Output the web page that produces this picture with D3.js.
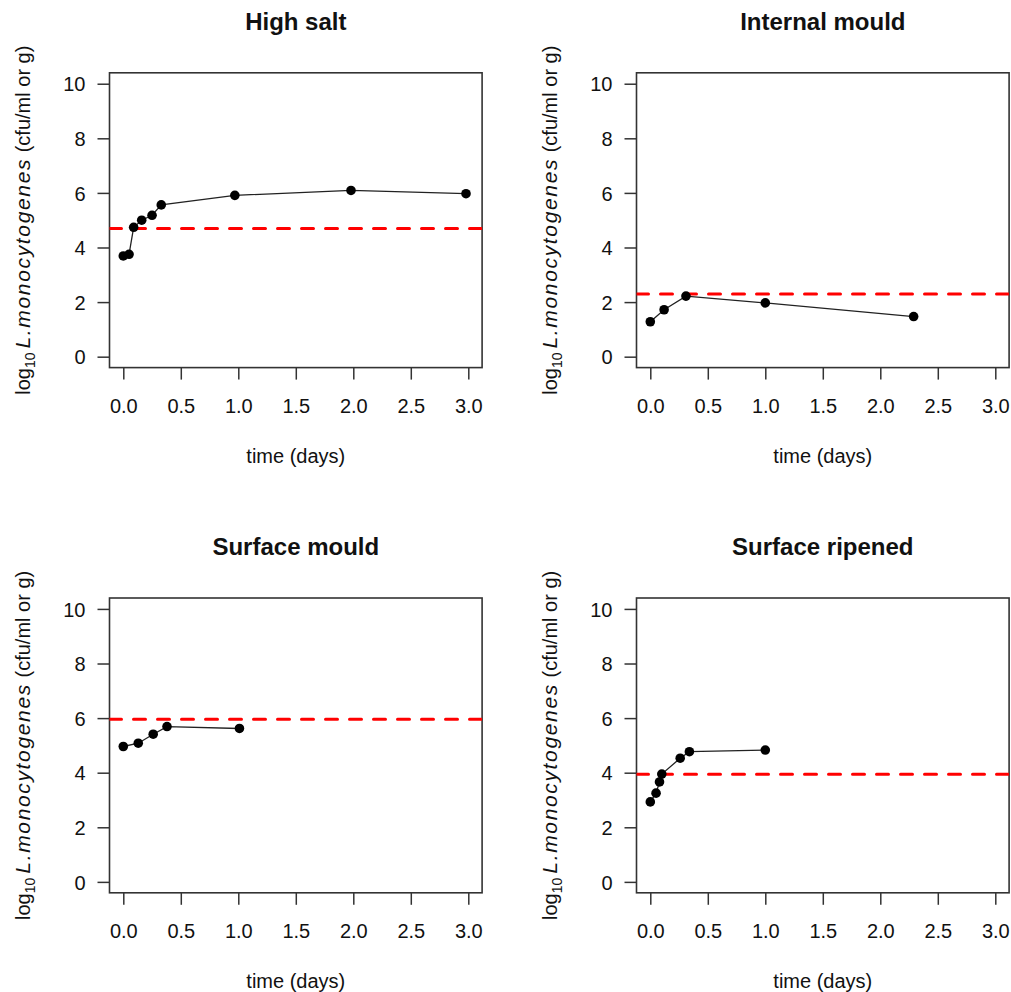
<!DOCTYPE html>
<html>
<head>
<meta charset="utf-8">
<script src="https://cdn.jsdelivr.net/npm/d3@7"></script>
<style>
  html, body { margin: 0; padding: 0; background: #fff; }
  svg { display: block; font-family: "Liberation Sans", Arial, sans-serif; }
</style>
</head>
<body>
<svg id="chart" width="1011" height="992"></svg>
<script>
// Growth of L. monocytogenes in four cheese types (log10 counts over time)
const panelTitles = ["High salt", "Internal mould", "Surface mould", "Surface ripened"];

const highSaltTime = [0, 0.05, 0.09, 0.16, 0.25, 0.33, 0.97, 1.98, 2.98];
const highSaltLog = [3.69, 3.75, 4.74, 5.00, 5.18, 5.56, 5.91, 6.09, 5.97];
const highSaltLimit = 4.70;

const internalMouldTime = [0, 0.12, 0.31, 1.00, 2.29];
const internalMouldLog = [1.28, 1.72, 2.22, 1.97, 1.47];
const internalMouldLimit = 2.30;

const surfaceMouldTime = [0, 0.13, 0.26, 0.38, 1.01];
const surfaceMouldLog = [4.96, 5.08, 5.41, 5.69, 5.62];
const surfaceMouldLimit = 5.96;

const surfaceRipenedTime = [0, 0.05, 0.08, 0.10, 0.26, 0.34, 1.00];
const surfaceRipenedLog = [2.93, 3.25, 3.66, 3.95, 4.53, 4.77, 4.83];
const surfaceRipenedLimit = 3.94;

const xTicks = [0, 0.5, 1, 1.5, 2, 2.5, 3];
const yTicks = [0, 2, 4, 6, 8, 10];
const xLabel = "time (days)";

const series = [
  { t: highSaltTime, y: highSaltLog, limit: highSaltLimit },
  { t: internalMouldTime, y: internalMouldLog, limit: internalMouldLimit },
  { t: surfaceMouldTime, y: surfaceMouldLog, limit: surfaceMouldLimit },
  { t: surfaceRipenedTime, y: surfaceRipenedLog, limit: surfaceRipenedLimit }
];

// plot-region layout (2 x 2 grid)
const boxW = 372.6, boxH = 294.8;
const lefts = [109.5, 636.5, 109.5, 636.5];
const tops = [72.8, 72.8, 598.0, 598.0];

const svg = d3.select("#chart");
const ink = "#111";

series.forEach((s, i) => {
  const L = lefts[i], T = tops[i];
  const x = d3.scaleLinear().domain([-0.12, 3.12]).range([L, L + boxW]);
  const y = d3.scaleLinear().domain([-0.4, 10.4]).range([T + boxH, T]);
  const g = svg.append("g");

  const clipId = "clip" + i;
  g.append("clipPath").attr("id", clipId)
    .append("rect").attr("x", L).attr("y", T).attr("width", boxW).attr("height", boxH);

  // x axis
  const xa = g.append("g").attr("transform", `translate(0,${T + boxH})`)
    .call(d3.axisBottom(x).tickValues(xTicks).tickFormat(d3.format(".1f")).tickSize(12).tickSizeOuter(0));
  xa.select(".domain").remove();
  xa.selectAll(".tick line").attr("stroke", "#333").attr("stroke-width", 1.5);
  xa.selectAll(".tick text").attr("y", 45.4).attr("dy", null)
    .attr("font-size", 20).attr("font-family", "Liberation Sans, Arial, sans-serif").attr("fill", ink);

  // y axis
  const ya = g.append("g").attr("transform", `translate(${L},0)`)
    .call(d3.axisLeft(y).tickValues(yTicks).tickFormat(d3.format("d")).tickSize(12).tickSizeOuter(0));
  ya.select(".domain").remove();
  ya.selectAll(".tick line").attr("stroke", "#333").attr("stroke-width", 1.5);
  ya.selectAll(".tick text").attr("x", -24).attr("dy", "0.36em")
    .attr("font-size", 20).attr("font-family", "Liberation Sans, Arial, sans-serif").attr("fill", ink);

  // plot frame
  g.append("rect").attr("x", L).attr("y", T).attr("width", boxW).attr("height", boxH)
    .attr("fill", "none").attr("stroke", "#333").attr("stroke-width", 1.6);

  // threshold line
  g.append("line").attr("clip-path", `url(#${clipId})`)
    .attr("x1", L).attr("x2", L + boxW)
    .attr("y1", y(s.limit)).attr("y2", y(s.limit))
    .attr("stroke", "#ff0000").attr("stroke-width", 3)
    .attr("stroke-dasharray", "12 12").attr("stroke-linecap", "round");

  // growth curve
  const pts = s.t.map((t, k) => [t, s.y[k]]);
  g.append("path").datum(pts)
    .attr("d", d3.line().x(d => x(d[0])).y(d => y(d[1])))
    .attr("fill", "none").attr("stroke", "#222").attr("stroke-width", 1.3);
  g.selectAll("circle.pt").data(pts).join("circle").attr("class", "pt")
    .attr("cx", d => x(d[0])).attr("cy", d => y(d[1])).attr("r", 4.8).attr("fill", "#000");

  // title
  g.append("text").attr("x", L + boxW / 2).attr("y", T - 42.8)
    .attr("text-anchor", "middle").attr("font-size", 24).attr("font-weight", "bold")
    .attr("fill", ink).text(panelTitles[i]);

  // x label
  g.append("text").attr("x", L + boxW / 2).attr("y", T + boxH + 95.4)
    .attr("text-anchor", "middle").attr("font-size", 20).attr("fill", ink).text(xLabel);

  // y label: log10 L.monocytogenes (cfu/ml or g)
  const yl = g.append("text")
    .attr("transform", `translate(${L - 79.5},${T + boxH / 2}) rotate(-90)`)
    .attr("text-anchor", "middle").attr("font-size", 20).attr("fill", ink);
  yl.append("tspan").text("log");
  yl.append("tspan").attr("font-size", 14).attr("dy", 5).text("10");
  yl.append("tspan").attr("dy", -5).text("\u2009");
  yl.append("tspan").attr("font-style", "italic").attr("font-size", 21)
    .attr("textLength", 189).attr("lengthAdjust", "spacing").text("L.monocytogenes");
  yl.append("tspan").text(" (cfu/ml or g)");
});
</script>
</body>
</html>
